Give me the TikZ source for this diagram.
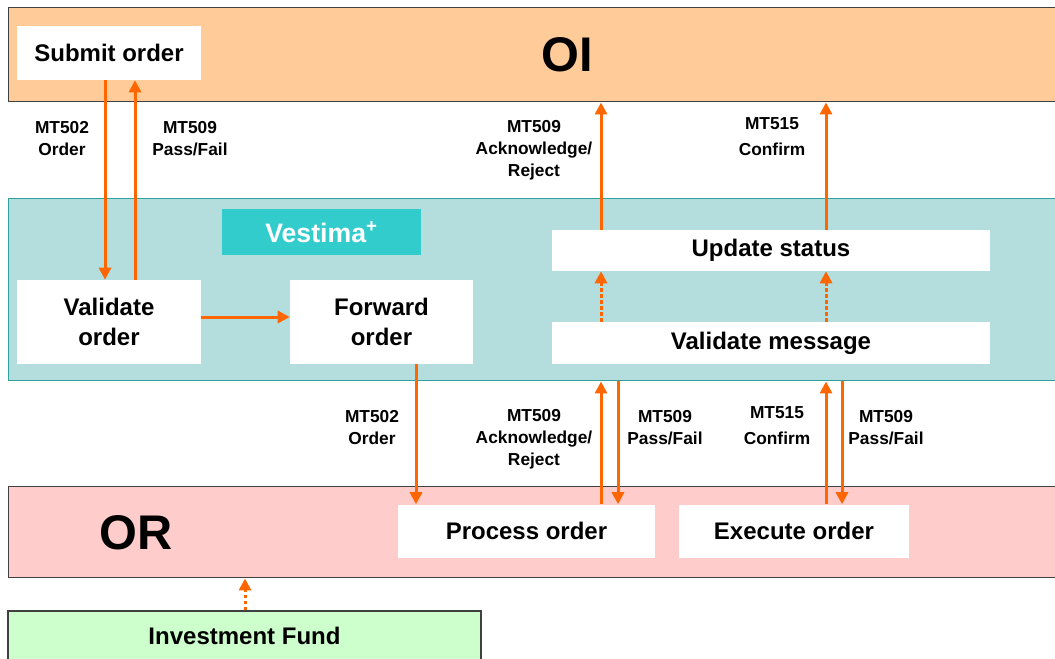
\documentclass[tikz,border=0pt]{standalone}
\usepackage{fontspec}
\setmainfont{Liberation Sans}
\usetikzlibrary{arrows.meta}
\definecolor{oiband}{RGB}{255,204,153}
\definecolor{veband}{RGB}{180,222,222}
\definecolor{veedge}{RGB}{51,160,160}
\definecolor{vetag}{RGB}{51,204,204}
\definecolor{orband}{RGB}{255,204,204}
\definecolor{fundbox}{RGB}{204,255,204}
\definecolor{msgline}{RGB}{255,102,0}

\begin{document}
\begin{tikzpicture}[x=0.75pt, y=-0.75pt,
  band/.style={draw=black!75, line width=1.1pt, anchor=north west, minimum width=790.5pt, inner sep=0pt},
  task/.style={fill=white, align=center, inner sep=0pt, font=\bfseries\fontsize{18}{22.5}\selectfont},
  msg/.style={align=center, font=\bfseries\fontsize{13}{16.5}\selectfont},
  big/.style={font=\bfseries\fontsize{36.5}{40}\selectfont},
  >={Triangle[length=9pt, width=9pt]}]
\useasboundingbox (0,0) rectangle (1055,659);
% swim lanes
\node[band, fill=oiband, minimum height=70.5pt] (OI) at (8,7) {};
\node[band, fill=veband, draw=veedge, minimum height=136.5pt] (VE) at (8,198) {};
\node[band, fill=orband, minimum height=68.25pt] (OR) at (8,486) {};
\node[big] (OItext) at (567,55) {OI};
\node[big] (ORtext) at (136,533) {OR};
\node[fill=vetag, text=white, minimum width=149.25pt, minimum height=34.5pt, inner sep=0pt,
  font=\bfseries\fontsize{20}{24}\selectfont] (vestima) at (321.5,232) {Vestima\textsuperscript{+}};
% tasks
\node[task, minimum width=138pt, minimum height=40.5pt] (submit) at (109,53) {Submit order};
\node[task, minimum width=138pt, minimum height=63pt] (validate) at (109,322) {Validate\\order};
\node[task, minimum width=137.25pt, minimum height=63pt] (forward) at (381.5,322) {Forward\\order};
\node[task, minimum width=328.5pt, minimum height=30.75pt] (update) at (771,250.5) {Update status};
\node[task, minimum width=328.5pt, minimum height=31.5pt] (valmsg) at (771,343) {Validate message};
\node[task, minimum width=192.75pt, minimum height=39.75pt] (process) at (526.5,531) {Process order};
\node[task, minimum width=172.5pt, minimum height=39.75pt] (execute) at (794,531) {Execute order};
\node[task, fill=fundbox, draw=black!75, line width=1.1pt, minimum width=354.75pt, minimum height=37.5pt,
  font=\bfseries\fontsize{18}{22}\selectfont] (fund) at (244.5,636) {Investment Fund};
% arrow columns
\coordinate (cs1) at (105,0);
\coordinate (cs2) at (135,0);
\coordinate (cf) at (416,0);
\coordinate (ca) at (601,0);
\coordinate (cb) at (618,0);
\coordinate (cc) at (826,0);
\coordinate (cd) at (842,0);
\coordinate (ci) at (245,0);
\tikzset{flow/.style={draw=msgline, line width=2.25pt}}
\draw[flow, ->] (submit.south -| cs1) -- (validate.north -| cs1);
\draw[flow, ->] (validate.north -| cs2) -- (submit.south -| cs2);
\draw[flow, ->] ([yshift=3.75pt]validate.east) -- ([yshift=3.75pt]forward.west);
\draw[flow, ->] (forward.south -| cf) -- (process.north -| cf);
\draw[flow, ->] (process.north -| ca) -- (VE.south -| ca);
\draw[flow, ->] (VE.south -| cb) -- (process.north -| cb);
\draw[flow, ->] (execute.north -| cc) -- (VE.south -| cc);
\draw[flow, ->] (VE.south -| cd) -- (execute.north -| cd);
\draw[flow, ->, dash pattern=on 2.5pt off 2pt] (valmsg.north -| ca) -- (update.south -| ca);
\draw[flow, ->, dash pattern=on 2.5pt off 2pt] (valmsg.north -| cc) -- (update.south -| cc);
\draw[flow, ->] (update.north -| ca) -- (OI.south -| ca);
\draw[flow, ->] (update.north -| cc) -- (OI.south -| cc);
\draw[flow, ->, dash pattern=on 2.5pt off 2pt] (fund.north -| ci) -- (OR.south -| ci);
% message labels
\node[msg] (m1) at (62,139) {MT502\\Order};
\node[msg] (m2) at (190,139) {MT509\\Pass/Fail};
\node[msg] (m3) at (534,150) {MT509\\Acknowledge/\\Reject};
\node[msg] (m4) at (772,137) {MT515\\[3pt]Confirm};
\node[msg] (m5) at (372,428) {MT502\\Order};
\node[msg] (m6) at (534,439) {MT509\\Acknowledge/\\Reject};
\node[msg] (m7) at (665,428) {MT509\\Pass/Fail};
\node[msg] (m8) at (777,426) {MT515\\[3pt]Confirm};
\node[msg] (m9) at (886,428) {MT509\\Pass/Fail};
\end{tikzpicture}
\end{document}
